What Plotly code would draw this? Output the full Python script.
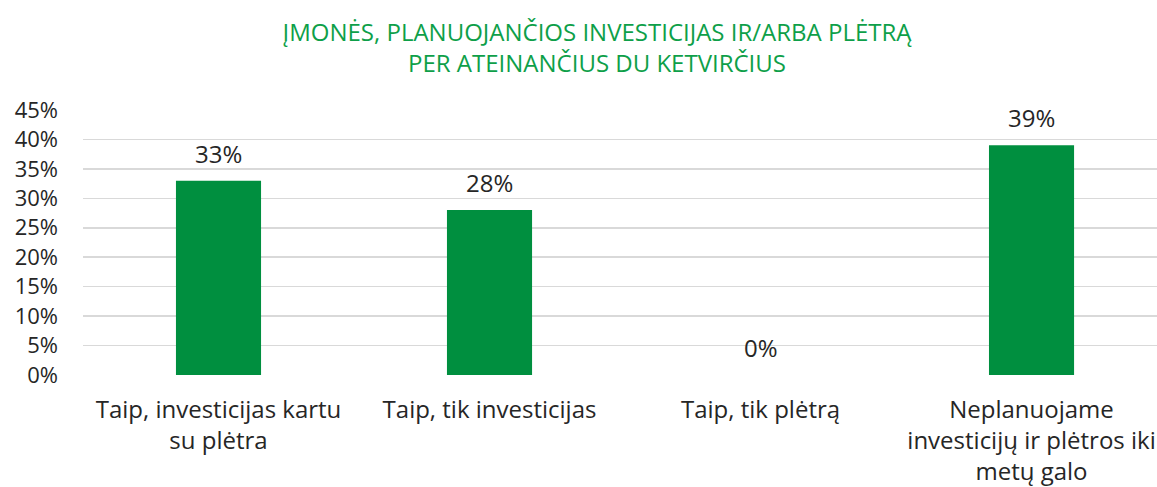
import plotly.graph_objects as go

categories = [
    "Taip, investicijas kartu<br>su plėtra",
    "Taip, tik investicijas",
    "Taip, tik plėtrą",
    "Neplanuojame<br>investicijų ir plėtros iki<br>metų galo",
]
values = [0.33, 0.28, 0.0, 0.39]
labels = ["33%", "28%", "0%", "39%"]
yticks = [0, 0.05, 0.10, 0.15, 0.20, 0.25, 0.30, 0.35, 0.40, 0.45]

FONT = "Open Sans, Noto Sans, sans-serif"
BAR = "#008f3f"
TITLE = "#0e9f49"
TXT = "#262626"
FS = 24

xpos = list(range(len(categories)))

fig = go.Figure()
fig.add_trace(go.Bar(
    x=xpos, y=values, width=0.314,
    marker=dict(color=BAR, line=dict(width=0)),
    hoverinfo="skip",
))

for xi, v, t in zip(xpos, values, labels):
    fig.add_annotation(x=xi, y=v, text=t, showarrow=False, xref="x", yref="y",
                       yanchor="bottom", yshift=9,
                       font=dict(family=FONT, size=FS, color=TXT))

W, H = 1157, 487
fig.update_layout(
    width=W, height=H,
    margin=dict(l=83, r=0, t=110, b=112, autoexpand=False),
    paper_bgcolor="white", plot_bgcolor="white",
    showlegend=False,
    font=dict(family=FONT, size=FS, color=TXT),
    title=dict(
        text="ĮMONĖS, PLANUOJANČIOS INVESTICIJAS IR/ARBA PLĖTRĄ<br>PER ATEINANČIUS DU KETVIRČIUS",
        x=597 / W, xanchor="center", xref="container",
        y=1 - 41 / H, yanchor="top", yref="container",
        font=dict(family=FONT, size=FS, color=TITLE),
    ),
    xaxis=dict(
        range=[-0.5, 3.463], tickmode="array", tickvals=xpos, ticktext=categories,
        showgrid=False, zeroline=False, showline=False, ticks="",
        ticklabelstandoff=18, automargin=False,
        tickfont=dict(family=FONT, size=FS, color=TXT),
    ),
    yaxis=dict(
        range=[0, 0.45], tickmode="array", tickvals=yticks,
        ticktext=[f"{int(round(v*100))}%" for v in yticks],
        showgrid=True, gridcolor="#d9d9d9", gridwidth=1.5,
        zeroline=False, showline=False, ticks="",
        ticklabelstandoff=24, automargin=False,
        tickfont=dict(family=FONT, size=22, color=TXT),
    ),
)

fig.write_html(
    "out.html",
    config={"displayModeBar": False, "staticPlot": True},
    post_script="document.body.style.margin='0';document.body.style.overflow='hidden';",
)
